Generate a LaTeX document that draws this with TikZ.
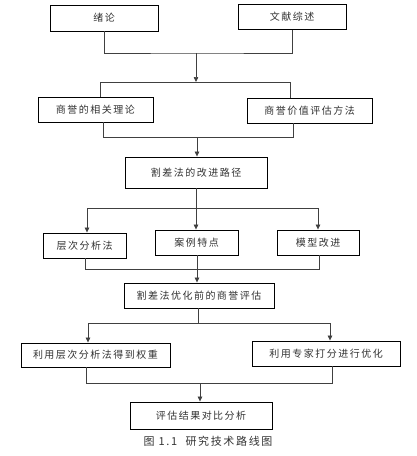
\documentclass[tikz,border=0pt]{standalone}
\usepackage{fontspec}
\newfontfamily\cjk[LetterSpace=15]{Noto Sans CJK SC}
\usetikzlibrary{positioning}
\usetikzlibrary{arrows.meta}
\tikzset{
    mybox/.style = {rectangle, line width=0.9pt, draw=black, align=center, fill=white, inner sep=0pt, font=\cjk\fontsize{10}{12}\selectfont, text=black!80},
    edgen/.style = {-, line width=0.7pt, black!75},
    edgea/.style = {-{Triangle[length=5pt,width=4.5pt]}, line width=0.7pt, black!75}, % arrow
}
\begin{document}
\begin{tikzpicture}[x=1pt,y=-1pt]
\path[use as bounding box, fill=white] (0,0) rectangle (417,456);
\node[mybox, minimum width=108pt, minimum height=26pt] at (104,18) (intro) {绪论};
\node[mybox, minimum width=108pt, minimum height=25pt] at (292,17) (review) {文献综述};
\node[mybox, minimum width=115pt, minimum height=25pt] at (95.5,109.5) (theory) {商誉的相关理论};
\node[mybox, minimum width=125pt, minimum height=25pt] at (309.5,110.5) (method) {商誉价值评估方法};
\node[mybox, minimum width=142pt, minimum height=31pt] at (196,172.5) (route) {割差法的改进路径};
\node[mybox, minimum width=83pt, minimum height=25pt] at (84.5,245.5) (ahp) {层次分析法};
\node[mybox, minimum width=83pt, minimum height=25pt] at (196.5,242.5) (case) {案例特点};
\node[mybox, minimum width=82pt, minimum height=25pt] at (318,242.5) (model) {模型改进};
\node[mybox, minimum width=150pt, minimum height=25pt] at (199,295.5) (before) {割差法优化前的商誉评估};
\node[mybox, minimum width=149pt, minimum height=24pt] at (95.5,355) (weight) {利用层次分析法得到权重};
\node[mybox, minimum width=148pt, minimum height=25pt] at (326,353.5) (expert) {利用专家打分进行优化};
\node[mybox, minimum width=142pt, minimum height=27pt] at (201,415.5) (result) {评估结果对比分析};
\node[font=\cjk\fontsize{11}{13}\selectfont, text=black!80] at (208,441) (cap) {图 1.1\ \ 研究技术路线图};
%
\coordinate (m1) at (196,53);
\coordinate (a1) at (100,82);
\coordinate (a2) at (290,82);
\coordinate (b1) at (103,137);
\coordinate (b2) at (293,137);
\coordinate (m2) at (197,137);
\coordinate (c1) at (87,208);
\coordinate (c3) at (318,208);
\coordinate (d1) at (85,269);
\coordinate (d3) at (319,269);
\coordinate (m4) at (197,269);
\coordinate (e1) at (88,323);
\coordinate (e2) at (330,323);
\coordinate (f1) at (86,383);
\coordinate (f2) at (332,383);
\coordinate (m6) at (200,383);
%
\draw[edgen] (intro.south) |- (m1) -| (review.south);
\draw[edgea] (m1) -- (m1 |- a1);
\draw[edgen] (a1 |- theory.north) -- (a1) -- (a2) -- (a2 |- method.north);
\draw[edgen] (b1 |- theory.south) -- (b1) -- (b2) -- (b2 |- method.south);
\draw[edgea] (m2) -- (m2 |- route.north);
\draw[edgen] (route.south) -- (route.south |- c1);
\draw[edgen] (c1) -- (c3);
\draw[edgea] (c1) -- (c1 |- ahp.north);
\draw[edgea] (route.south) -- (route.south |- case.north);
\draw[edgea] (c3) -- (c3 |- model.north);
\draw[edgen] (d1 |- ahp.south) -- (d1) -- (d3) -- (d3 |- model.south);
\draw[edgen] (m4 |- case.south) -- (m4);
\draw[edgea] (m4) -- (m4 |- before.north);
\draw[edgen] (e1) -- (e2);
\draw[edgen] (before.south -| 198,0) -- (198,323);
\draw[edgea] (e1) -- (e1 |- weight.north);
\draw[edgea] (e2) -- (e2 |- expert.north);
\draw[edgen] (f1 |- weight.south) -- (f1) -- (f2) -- (f2 |- expert.south);
\draw[edgea] (m6) -- (m6 |- result.north);
\end{tikzpicture}
\end{document}
